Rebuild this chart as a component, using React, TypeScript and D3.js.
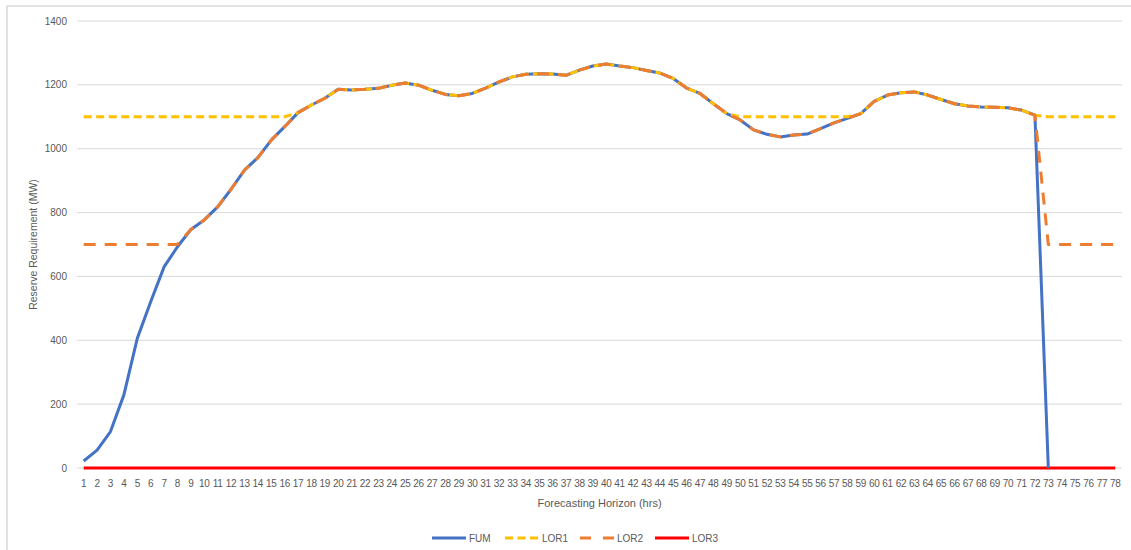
import React from "react";
import * as d3 from "d3";

// forecasting horizon (hrs)
const hours = d3.range(1, 79).map(String);

const fum = [
  22, 56, 114, 229, 406, 521, 630, 693, 747, 777,
  818, 873, 933, 972, 1027, 1069, 1113, 1137, 1158, 1186,
  1184, 1186, 1189, 1199, 1206, 1199, 1183, 1170, 1166, 1173,
  1190, 1209, 1225, 1233, 1235, 1234, 1230, 1246, 1259, 1265,
  1259, 1254, 1245, 1237, 1220, 1190, 1173, 1141, 1110, 1090,
  1059, 1045, 1037, 1043, 1046, 1063, 1081, 1095, 1110, 1148,
  1168, 1175, 1178, 1168, 1154, 1141, 1134, 1131, 1130, 1128,
  1121, 1105, 0,
];

const lor1 = [
  1100, 1100, 1100, 1100, 1100, 1100, 1100, 1100, 1100, 1100,
  1100, 1100, 1100, 1100, 1100, 1100, 1113, 1137, 1158, 1186,
  1184, 1186, 1189, 1199, 1206, 1199, 1183, 1170, 1166, 1173,
  1190, 1209, 1225, 1233, 1235, 1234, 1230, 1246, 1259, 1265,
  1259, 1254, 1245, 1237, 1220, 1190, 1173, 1141, 1110, 1100,
  1100, 1100, 1100, 1100, 1100, 1100, 1100, 1100, 1110, 1148,
  1168, 1175, 1178, 1168, 1154, 1141, 1134, 1131, 1130, 1128,
  1121, 1105, 1100, 1100, 1100, 1100, 1100, 1100,
];

const lor2 = [
  700, 700, 700, 700, 700, 700, 700, 700, 747, 777,
  818, 873, 933, 972, 1027, 1069, 1113, 1137, 1158, 1186,
  1184, 1186, 1189, 1199, 1206, 1199, 1183, 1170, 1166, 1173,
  1190, 1209, 1225, 1233, 1235, 1234, 1230, 1246, 1259, 1265,
  1259, 1254, 1245, 1237, 1220, 1190, 1173, 1141, 1110, 1090,
  1059, 1045, 1037, 1043, 1046, 1063, 1081, 1095, 1110, 1148,
  1168, 1175, 1178, 1168, 1154, 1141, 1134, 1131, 1130, 1128,
  1121, 1105, 700, 700, 700, 700, 700, 700,
];

const lor3 = [
  0, 0, 0, 0, 0, 0, 0, 0, 0, 0, 0, 0, 0, 0, 0, 0, 0, 0, 0, 0,
  0, 0, 0, 0, 0, 0, 0, 0, 0, 0, 0, 0, 0, 0, 0, 0, 0, 0, 0, 0,
  0, 0, 0, 0, 0, 0, 0, 0, 0, 0, 0, 0, 0, 0, 0, 0, 0, 0, 0, 0,
  0, 0, 0, 0, 0, 0, 0, 0, 0, 0, 0, 0, 0, 0, 0, 0, 0, 0,
];

const yTicks = [0, 200, 400, 600, 800, 1000, 1200, 1400];

const series = [
  { name: "FUM", values: fum, color: "#4472C4", dash: "" },
  { name: "LOR1", values: lor1, color: "#FFC000", dash: "8 4.5" },
  { name: "LOR2", values: lor2, color: "#ED7D31", dash: "12 9" },
  { name: "LOR3", values: lor3, color: "#FF0000", dash: "" },
];

const width = 1131;
const height = 550;
const font = "Liberation Sans, Arial, sans-serif";
const textColor = "#595959";

export default function App() {
  const x = d3.scalePoint<string>().domain(hours).range([77, 1122]).padding(0.5);
  const y = d3.scaleLinear().domain([0, 1400]).range([468, 21]);

  const line = d3
    .line<number>()
    .x((_, i) => x(hours[i]) as number)
    .y((d) => y(d));

  // draw order: LOR3 under the others like the original
  const order = [series[3], series[0], series[1], series[2]];

  const legendX = [432, 505, 580, 655];

  return (
    <svg
      width={width}
      height={height}
      style={{ position: "absolute", left: 0, top: 0, background: "#fff" }}
    >
      <rect x={0} y={0} width={width} height={height} fill="#fff" />
      {/* chart border */}
      <line x1={7} y1={6} x2={width} y2={6} stroke="#d9d9d9" strokeWidth={1.5} />
      <line x1={7} y1={6} x2={7} y2={height} stroke="#d9d9d9" strokeWidth={1.5} />

      {/* gridlines + y labels */}
      {yTicks.map((t) => (
        <g key={t}>
          <line x1={77} x2={1122} y1={y(t)} y2={y(t)} stroke="#d9d9d9" strokeWidth={1} />
          <text
            x={67}
            y={y(t)}
            dy="0.35em"
            textAnchor="end"
            fontFamily={font}
            fontSize={10}
            fill={textColor}
          >
            {t}
          </text>
        </g>
      ))}

      {/* x labels */}
      {hours.map((h) => (
        <text
          key={h}
          x={x(h)}
          y={483}
          dy="0.35em"
          textAnchor="middle"
          fontFamily={font}
          fontSize={10}
          letterSpacing={-0.3}
          fill={textColor}
        >
          {h}
        </text>
      ))}

      {/* series */}
      {order.map((s) => (
        <path
          key={s.name}
          d={line(s.values) as string}
          fill="none"
          stroke={s.color}
          strokeWidth={3}
          strokeDasharray={s.dash || undefined}
          strokeLinejoin="round"
        />
      ))}

      {/* axis titles */}
      <text
        transform={`translate(33, ${(y(0) + y(1400)) / 2}) rotate(-90)`}
        textAnchor="middle"
        dy="0.35em"
        fontFamily={font}
        fontSize={10.5}
        fill={textColor}
      >
        Reserve Requirement (MW)
      </text>
      <text
        x={(77 + 1122) / 2}
        y={503}
        textAnchor="middle"
        dy="0.35em"
        fontFamily={font}
        fontSize={11}
        fill={textColor}
      >
        Forecasting Horizon (hrs)
      </text>

      {/* legend */}
      {series.map((s, i) => (
        <g key={s.name}>
          <line
            x1={legendX[i]}
            x2={legendX[i] + 34}
            y1={538}
            y2={538}
            stroke={s.color}
            strokeWidth={3}
            strokeDasharray={s.name === "LOR2" ? "11 12" : s.dash || undefined}
          />
          <text
            x={legendX[i] + 37}
            y={538}
            dy="0.35em"
            fontFamily={font}
            fontSize={10}
            fill={textColor}
          >
            {s.name}
          </text>
        </g>
      ))}
    </svg>
  );
}
